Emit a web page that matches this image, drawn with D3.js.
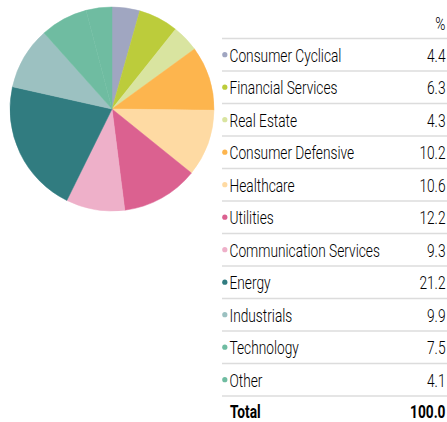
<!DOCTYPE html>
<html><head><meta charset="utf-8">
<script src="https://cdn.jsdelivr.net/npm/d3@7"></script>
<style>
html,body{margin:0;padding:0;background:#fff;}
svg{display:block;}
text{font-family:"Roboto",sans-serif;}
</style></head>
<body>
<svg id="chart" width="447" height="422"></svg>
<script>
const categories = ["Consumer Cyclical","Financial Services","Real Estate","Consumer Defensive","Healthcare","Utilities","Communication Services","Energy","Industrials","Technology","Other"];
const values = [4.4,6.3,4.3,10.2,10.6,12.2,9.3,21.2,9.9,7.5,4.1];
const colors = ["#a0a6c1","#bccc3b","#d9e4a0","#fdb54e","#fedaa3","#db6190","#eeb0c9","#317c80","#9cc1c1","#6fbca1","#6fbca1"];
const headerLabel = "%";
const totalLabel = "Total";
const totalValue = "100.0";

(function(){
const svg = d3.select("#chart");
const cx = 112, cy = 109, R = 102;
const pie = d3.pie().sort(null).value(d => d.v);
const arc = d3.arc().innerRadius(0).outerRadius(R);
const data = categories.map((c,i)=>({c, v: values[i], col: colors[i]}));
const g = svg.append("g").attr("transform",`translate(${cx},${cy})`);
g.selectAll("path").data(pie(data)).join("path")
  .attr("d", arc).attr("fill", d => d.data.col)
  .attr("stroke", d => d.data.col).attr("stroke-width", 0.5);

const x0 = 222, x1 = 447, xr = 445.5, tableTop = 38.5, step = 32.5;
const fs = 17.5;
const probe = svg.append("text").attr("font-size", fs).attr("font-weight", 300).text(categories[0]);
const w = probe.node().getComputedTextLength();
probe.remove();
const sx = Math.min(1, 112 / w);

function label(x, yy, txt, anchor, weight, fill) {
  svg.append("text")
    .attr("transform", `translate(${x},${yy}) scale(${sx},1)`)
    .attr("text-anchor", anchor).attr("font-size", fs)
    .attr("font-weight", weight).attr("fill", fill).text(txt);
}
const y = d3.scaleLinear().domain([0, 1]).range([tableTop, tableTop + step]);
label(xr, 29.5, headerLabel, "end", 300, "#000");
for (let i = 0; i <= categories.length; i++) {
  svg.append("line").attr("x1", x0).attr("x2", x1).attr("y1", y(i)).attr("y2", y(i))
    .attr("stroke","#dcdcdc").attr("stroke-width",1.6);
}
data.forEach((d, i) => {
  svg.append("circle").attr("cx",224.8).attr("cy",y(i)+16.2).attr("r",2.6).attr("fill",d.col);
  label(229.5, y(i)+23, d.c, "start", 300, "#000");
  label(xr, y(i)+23, d.v.toFixed(1), "end", 300, "#000");
});
const ty = y(categories.length);
label(230, ty+22, totalLabel, "start", "bold", "#000");
label(xr, ty+22, totalValue, "end", "bold", "#000");
})();
</script>
</body></html>
